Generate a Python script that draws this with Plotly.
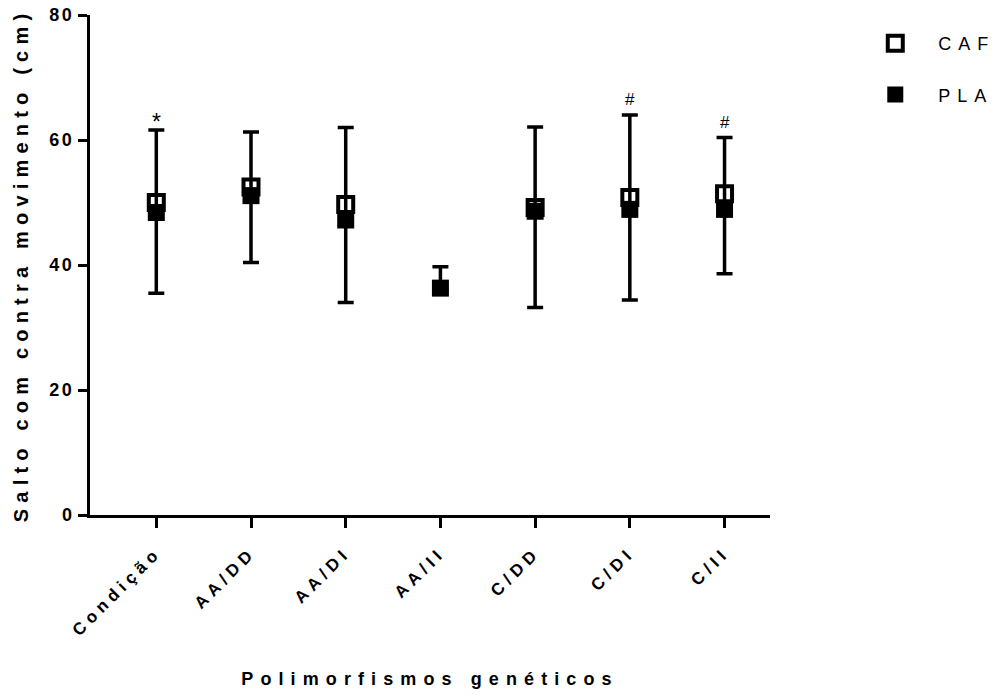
import plotly.graph_objects as go

categories = ["Condição", "AA/DD", "AA/DI", "AA/II", "C/DD", "C/DI", "C/II"]
caf_mean = [50.0, 52.5, 49.7, None, 49.2, 50.8, 51.4]
pla_mean = [48.4, 51.1, 47.2, 36.3, 48.6, 48.9, 48.9]
whisker_top = [61.6, 61.3, 62.0, 39.7, 62.1, 64.0, 60.4]
whisker_bottom = [35.5, 40.4, 34.0, 36.3, 33.2, 34.4, 38.6]
marks = ["*", "", "", "", "", "#", "#"]
y_ticks = [0, 20, 40, 60, 80]

err_up = [t - m for t, m in zip(whisker_top, pla_mean)]
err_down = [m - b for m, b in zip(pla_mean, whisker_bottom)]

FONT = "Liberation Sans, Arial, sans-serif"


def spaced(txt, px, bold=True):
    inner = f"<b>{txt}</b>" if bold else txt
    return f"<span style='letter-spacing:{px}px'>{inner}</span>"


fig = go.Figure()
fig.add_trace(go.Scatter(
    x=categories, y=pla_mean, mode="markers", name=spaced("PLA", 7, bold=False),
    legendgroup="pla", legendrank=2,
    marker=dict(symbol="square", size=17, color="black"),
    error_y=dict(type="data", array=err_up, arrayminus=err_down, symmetric=False,
                 color="black", thickness=3.5, width=8),
))
fig.add_trace(go.Scatter(
    x=categories, y=caf_mean, mode="markers", name=spaced("CAF", 7, bold=False),
    legendgroup="caf", legendrank=1,
    marker=dict(symbol="square-open", size=15, color="black", line=dict(width=4, color="black")),
))

for c, t, m in zip(categories, whisker_top, marks):
    if m:
        fig.add_annotation(x=c, y=t, text=m, showarrow=False, yanchor="bottom",
                           yshift=(-7 if m == "*" else 4),
                           font=dict(family=FONT, size=(23 if m == "*" else 17), color="black"))

fig.update_layout(
    width=1004, height=699,
    margin=dict(l=90, r=234, t=15, b=184, autoexpand=False),
    plot_bgcolor="white", paper_bgcolor="white",
    font=dict(family=FONT, color="black"),
    showlegend=True,
    legend=dict(x=1.121, y=0.98, xanchor="left", yanchor="top",
                traceorder="grouped", tracegroupgap=25,
                font=dict(family=FONT, size=18, color="black"), itemwidth=76),
    xaxis=dict(
        type="category", range=[-0.7, 6.48], automargin=False,
        tickvals=categories, ticktext=[spaced(c, 5) for c in categories],
        showline=True, linecolor="black", linewidth=3,
        ticks="outside", ticklen=10, tickwidth=3, tickcolor="black",
        tickangle=-45, showgrid=False, zeroline=False, ticklabelstandoff=8,
        tickfont=dict(family=FONT, size=17, color="black"),
        title=dict(text=spaced("Polimorfismos genéticos", 7.1),
                   font=dict(family=FONT, size=18, color="black"), standoff=34),
    ),
    yaxis=dict(
        range=[0, 80], automargin=False,
        tickvals=y_ticks, ticktext=[spaced(str(v), 2.5) for v in y_ticks],
        showline=True, linecolor="black", linewidth=3,
        ticks="outside", ticklen=9, tickwidth=3, tickcolor="black",
        showgrid=False, zeroline=False,
        tickfont=dict(family=FONT, size=18, color="black"),
        title=dict(text=spaced("Salto com contra movimento (cm)", 6.2),
                   font=dict(family=FONT, size=20, color="black"), standoff=16),
    ),
)

fig.write_html("out.html")
